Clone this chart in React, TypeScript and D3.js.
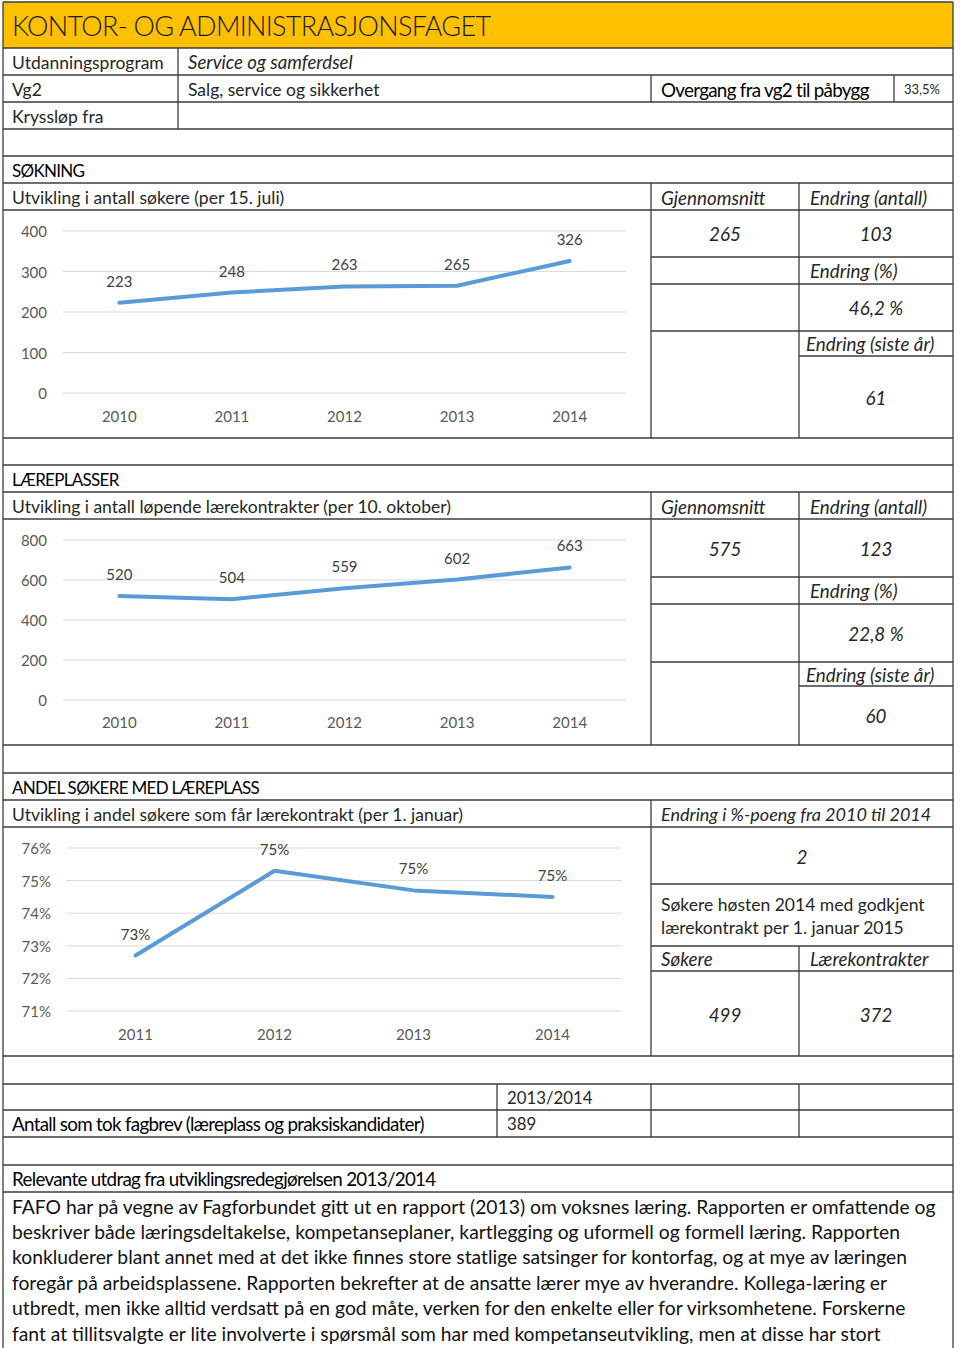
import { useMemo } from "react";
import * as d3 from "d3";

// Fact sheet for "Kontor- og administrasjonsfaget": a table layout with three small line charts.

const FONT = "Lato, 'Open Sans', 'DejaVu Sans', sans-serif";
const LINE_COLOR = "#5B9BD5";
const BORDER = "#3c3c3c";

// --- data ---------------------------------------------------------------
const years = ["2010", "2011", "2012", "2013", "2014"];
const applicants = [223, 248, 263, 265, 326];
const applicantTicks = [0, 100, 200, 300, 400];

const contracts = [520, 504, 559, 602, 663];
const contractTicks = [0, 200, 400, 600, 800];

const shareYears = ["2011", "2012", "2013", "2014"];
const shareValues = [72.7, 75.3, 74.7, 74.5];
const shareLabels = ["73%", "75%", "75%", "75%"];
const shareTicks = [71, 72, 73, 74, 75, 76];

const applicantStats = { avg: "265", change: "103", changePct: "46,2 %", lastYear: "61" };
const contractStats = { avg: "575", change: "123", changePct: "22,8 %", lastYear: "60" };
const autumnApplicants = "499";
const autumnContracts = "372";

const paragraph = [
  "FAFO har på vegne av Fagforbundet gitt ut en rapport (2013) om voksnes læring. Rapporten er omfattende og",
  "beskriver både læringsdeltakelse, kompetanseplaner, kartlegging og uformell og formell læring. Rapporten",
  "konkluderer blant annet med at det ikke finnes store statlige satsinger for kontorfag, og at mye av læringen",
  "foregår på arbeidsplassene. Rapporten bekrefter at de ansatte lærer mye av hverandre. Kollega-læring er",
  "utbredt, men ikke alltid verdsatt på en god måte, verken for den enkelte eller for virksomhetene. Forskerne",
  "fant at tillitsvalgte er lite involverte i spørsmål som har med kompetanseutvikling, men at disse har stort",
];

// --- table grid ---------------------------------------------------------
const L = 3;
const R = 953;
const fullRows = [48, 75, 102, 129, 156, 183, 210, 438, 465, 492, 519, 745, 773, 800, 827, 1056, 1084, 1110, 1137, 1165, 1192];
const partialRows: [number, number, number][] = [
  [257, 651, R], [284, 651, R], [331, 651, R], [356, 799, R],
  [577, 651, R], [604, 651, R], [662, 651, R], [686, 799, R],
  [884, 651, R], [946, 651, R], [971, 651, R],
];
const cols: [number, number, number][] = [
  [178, 48, 129], [651, 75, 102], [894, 75, 102],
  [651, 183, 438], [799, 183, 438],
  [651, 492, 745], [799, 492, 745],
  [651, 800, 1056], [799, 946, 1056],
  [497, 1084, 1137], [651, 1084, 1137], [799, 1084, 1137],
];

type TProps = {
  x: number;
  y: number;
  children: React.ReactNode;
  size?: number;
  italic?: boolean;
  anchor?: "start" | "middle" | "end";
  fill?: string;
  spacing?: number;
  weight?: number;
};

function T({ x, y, children, size, italic, anchor = "start", fill = "#262626", spacing, weight }: TProps) {
  // italics in Lato run narrower than the original face, so they get a bigger default size
  const fs = size ?? (italic ? 18.8 : 17.5);
  return (
    <text
      x={x}
      y={y}
      fontSize={fs}
      fontFamily={FONT}
      fontStyle={italic ? "italic" : "normal"}
      fontWeight={weight}
      textAnchor={anchor}
      dominantBaseline="central"
      fill={fill}
      letterSpacing={spacing}
    >
      {children}
    </text>
  );
}

// section headings are set tight, like the original's condensed Calibri
const Caps = ({ x, y, children }: { x: number; y: number; children: React.ReactNode }) => (
  <T x={x} y={y} size={17} spacing={-0.7} fill="#000">
    {children}
  </T>
);
const Tight = ({ x, y, children }: { x: number; y: number; children: React.ReactNode }) => (
  <T x={x} y={y} size={18.8} spacing={-0.7} fill="#000">
    {children}
  </T>
);

function LineChart({
  categories,
  values,
  labels,
  ticks,
  tickFmt,
  xRange,
  yRange,
  tickX,
  xLabelY,
}: {
  categories: string[];
  values: number[];
  labels: string[];
  ticks: number[];
  tickFmt: (v: number) => string;
  xRange: [number, number];
  yRange: [number, number];
  tickX: number;
  xLabelY: number;
}) {
  const x = useMemo(() => d3.scalePoint<string>().domain(categories).range(xRange).padding(0.5), [categories, xRange]);
  const y = useMemo(
    () => d3.scaleLinear().domain([ticks[0], ticks[ticks.length - 1]]).range(yRange),
    [ticks, yRange]
  );
  const line = d3
    .line<number>()
    .x((_, i) => x(categories[i]) ?? 0)
    .y((d) => y(d));

  return (
    <g>
      {ticks.map((t) => (
        <g key={t}>
          <line x1={xRange[0]} x2={xRange[1]} y1={y(t)} y2={y(t)} stroke="#d9d9d9" strokeWidth={1} />
          <T x={tickX} y={y(t)} size={15} anchor="end" fill="#595959">
            {tickFmt(t)}
          </T>
        </g>
      ))}
      {categories.map((c) => (
        <T key={c} x={x(c) ?? 0} y={xLabelY} size={15} anchor="middle" fill="#595959">
          {c}
        </T>
      ))}
      <path d={line(values) ?? ""} fill="none" stroke={LINE_COLOR} strokeWidth={4} strokeLinecap="round" strokeLinejoin="round" />
      {values.map((v, i) => (
        <T key={i} x={x(categories[i]) ?? 0} y={y(v) - 22} size={15} anchor="middle" fill="#404040">
          {labels[i]}
        </T>
      ))}
    </g>
  );
}

function StatsBlock({
  top,
  stats,
}: {
  top: number;
  stats: { avg: string; change: string; changePct: string; lastYear: string; rows: number[] };
}) {
  const [r0, r1, r2, r3, r4, r5] = stats.rows;
  return (
    <g>
      <T x={661} y={top} italic>Gjennomsnitt</T>
      <T x={810} y={top} italic>Endring (antall)</T>
      <T x={725} y={(r0 + r1) / 2} italic anchor="middle">{stats.avg}</T>
      <T x={876} y={(r0 + r1) / 2} italic anchor="middle">{stats.change}</T>
      <T x={810} y={(r1 + r2) / 2} italic>Endring (%)</T>
      <T x={876} y={(r2 + r3) / 2} italic anchor="middle">{stats.changePct}</T>
      <T x={806} y={(r3 + r4) / 2} italic>Endring (siste år)</T>
      <T x={876} y={(r4 + r5) / 2} italic anchor="middle">{stats.lastYear}</T>
    </g>
  );
}

export default function App() {
  return (
    <svg
      width={960}
      height={1348}
      style={{ position: "absolute", left: 0, top: 0, display: "block", background: "#fff" }}
    >
      {/* title band */}
      <rect x={L} y={2} width={R - L} height={46} fill="#FFC000" />
      <T x={12} y={25} size={27} fill="#1a1a1a" weight={300} spacing={-0.7}>
        KONTOR- OG ADMINISTRASJONSFAGET
      </T>

      {/* intro rows */}
      <T x={12} y={62}>Utdanningsprogram</T>
      <T x={188} y={62} italic size={18.6}>Service og samferdsel</T>
      <T x={12} y={89}>Vg2</T>
      <T x={188} y={89}>Salg, service og sikkerhet</T>
      <Tight x={661} y={89}>Overgang fra vg2 til påbygg</Tight>
      <T x={904} y={89} size={13}>33,5%</T>
      <T x={12} y={116}>Kryssløp fra</T>

      {/* søkning */}
      <Caps x={12} y={170}>SØKNING</Caps>
      <T x={12} y={197}>Utvikling i antall søkere (per 15. juli)</T>
      <LineChart
        categories={years}
        values={applicants}
        labels={applicants.map(String)}
        ticks={applicantTicks}
        tickFmt={String}
        xRange={[63, 626]}
        yRange={[393, 231]}
        tickX={47}
        xLabelY={416}
      />
      <StatsBlock top={197} stats={{ ...applicantStats, rows: [210, 257, 284, 331, 356, 438] }} />

      {/* læreplasser */}
      <Caps x={12} y={479}>LÆREPLASSER</Caps>
      <T x={12} y={506}>Utvikling i antall løpende lærekontrakter (per 10. oktober)</T>
      <LineChart
        categories={years}
        values={contracts}
        labels={contracts.map(String)}
        ticks={contractTicks}
        tickFmt={String}
        xRange={[63, 626]}
        yRange={[700, 540]}
        tickX={47}
        xLabelY={722}
      />
      <StatsBlock top={506} stats={{ ...contractStats, rows: [519, 577, 604, 662, 686, 745] }} />

      {/* andel søkere med læreplass */}
      <Caps x={12} y={787}>ANDEL SØKERE MED LÆREPLASS</Caps>
      <T x={12} y={814}>Utvikling i andel søkere som får lærekontrakt (per 1. januar)</T>
      <LineChart
        categories={shareYears}
        values={shareValues}
        labels={shareLabels}
        ticks={shareTicks}
        tickFmt={(v) => `${v}%`}
        xRange={[66, 622]}
        yRange={[1011, 848]}
        tickX={51}
        xLabelY={1034}
      />
      <T x={661} y={814} italic size={18}>Endring i %-poeng fra 2010 til 2014</T>
      <T x={802} y={856} italic anchor="middle">2</T>
      <T x={661} y={904}>Søkere høsten 2014 med godkjent</T>
      <T x={661} y={927}>lærekontrakt per 1. januar 2015</T>
      <T x={661} y={958} italic>Søkere</T>
      <T x={810} y={958} italic>Lærekontrakter</T>
      <T x={725} y={1014} italic anchor="middle">{autumnApplicants}</T>
      <T x={876} y={1014} italic anchor="middle">{autumnContracts}</T>

      {/* fagbrev */}
      <T x={507} y={1097} size={16.8}>2013/2014</T>
      <Tight x={12} y={1123}>Antall som tok fagbrev (læreplass og praksiskandidater)</Tight>
      <T x={507} y={1123} size={16.8}>389</T>

      {/* utviklingsredegjørelsen */}
      <Tight x={12} y={1178}>Relevante utdrag fra utviklingsredegjørelsen 2013/2014</Tight>
      {paragraph.map((line, i) => (
        <T key={i} x={12} y={1206 + i * 25.4} size={19.3} fill="#111">
          {line}
        </T>
      ))}

      {/* grid lines */}
      <g stroke={BORDER} strokeWidth={1.3}>
        <line x1={L} x2={R} y1={2} y2={2} />
        {fullRows.map((y) => (
          <line key={y} x1={L} x2={R} y1={y} y2={y} />
        ))}
        {partialRows.map(([y, x1, x2], i) => (
          <line key={`p${i}`} x1={x1} x2={x2} y1={y} y2={y} />
        ))}
        {cols.map(([x, y1, y2], i) => (
          <line key={`c${i}`} x1={x} x2={x} y1={y1} y2={y2} />
        ))}
        <line x1={L} x2={L} y1={2} y2={1348} />
        <line x1={R} x2={R} y1={2} y2={1348} />
      </g>
    </svg>
  );
}
